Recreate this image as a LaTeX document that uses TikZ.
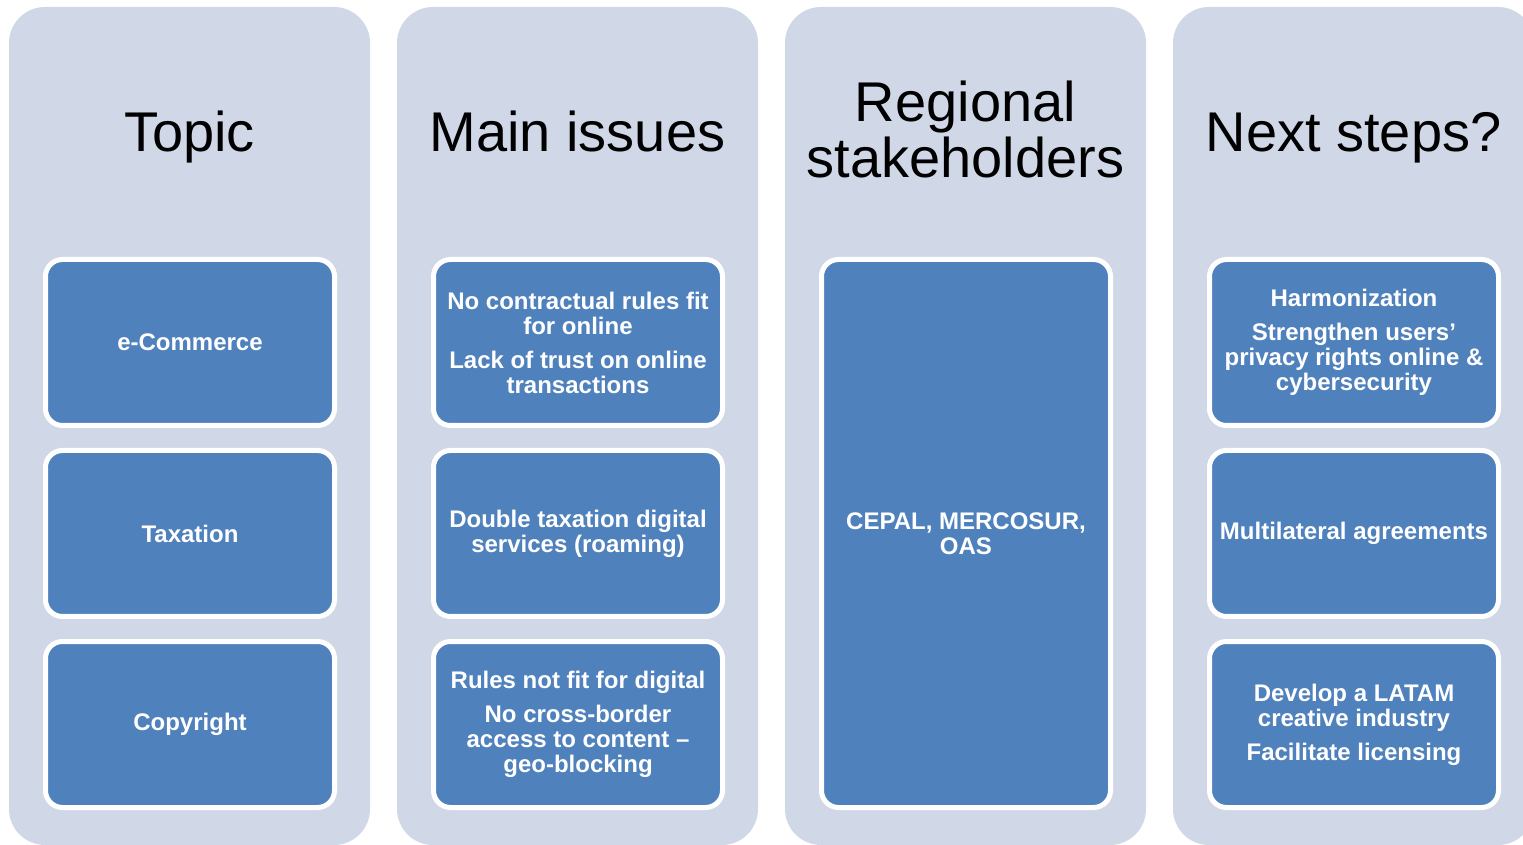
\documentclass[tikz,border=0pt]{standalone}
\usepackage{fontspec}
\setmainfont{Liberation Sans}
\definecolor{colbg}{HTML}{D0D8E8}
\definecolor{boxblue}{HTML}{4F81BD}
\tikzset{
  column/.style={rectangle, fill=colbg, draw=none, rounded corners=18pt,
    minimum width=180.5pt, minimum height=419pt, inner sep=0pt},
  panel/.style={rectangle, draw=white, line width=2.5pt, fill=boxblue,
    rounded corners=8.5pt, minimum width=144.5pt, minimum height=83pt,
    text=white, font=\bfseries\fontsize{12}{12.5}\selectfont, align=center, inner sep=0pt},
  bigpanel/.style={panel, minimum height=274pt},
  coltitle/.style={font=\fontsize{28}{28}\selectfont, align=center, inner sep=0pt, text=black}
}
\begin{document}
\begin{tikzpicture}[x=0.5pt, y=-0.5pt]
\useasboundingbox (0,0) rectangle (1523,845);
\clip (0,0) rectangle (1523,845);
% columns
\node[column] (c1) at (189.5,426) {};
\node[column] (c2) at (577.5,426) {};
\node[column] (c3) at (965.5,426) {};
\node[column] (c4) at (1353.5,426) {};
% titles
\node[coltitle, anchor=base] (t1) at (189.5,152) {Topic};
\node[coltitle, anchor=base] (t2) at (577.5,152) {Main issues};
\node[coltitle, anchor=base] (t3a) at (965.5,122) {Regional};
\node[coltitle, anchor=base] (t3b) at (965.5,178) {stakeholders};
\node[coltitle, anchor=base] (t4) at (1353.5,152) {Next steps?};
% column 1
\node[panel] (a1) at (190,342.5) {e-Commerce};
\node[panel] (a2) at (190,533.5) {Taxation};
\node[panel] (a3) at (190,724.5) {Copyright};
% column 2
\node[panel] (b1) at (578,342.5) {No contractual rules fit\\for online\\[4.5pt]Lack of trust on online\\transactions};
\node[panel] (b2) at (578,533.5) {Double taxation digital\\services (roaming)};
\node[panel] (b3) at (578,724.5) {Rules not fit for digital\\[4.5pt]No cross-border\\access to content –\\geo-blocking};
% column 3
\node[bigpanel] (r1) at (966,533.5) {CEPAL, MERCOSUR,\\OAS};
% column 4
\node[panel] (n1) at (1354,342.5) {Harmonization\\[4.5pt]Strengthen users’\\privacy rights online \&\\cybersecurity};
\node[panel] (n2) at (1354,533.5) {Multilateral agreements};
\node[panel] (n3) at (1354,724.5) {Develop a LATAM\\creative industry\\[4.5pt]Facilitate licensing};
\end{tikzpicture}
\end{document}
